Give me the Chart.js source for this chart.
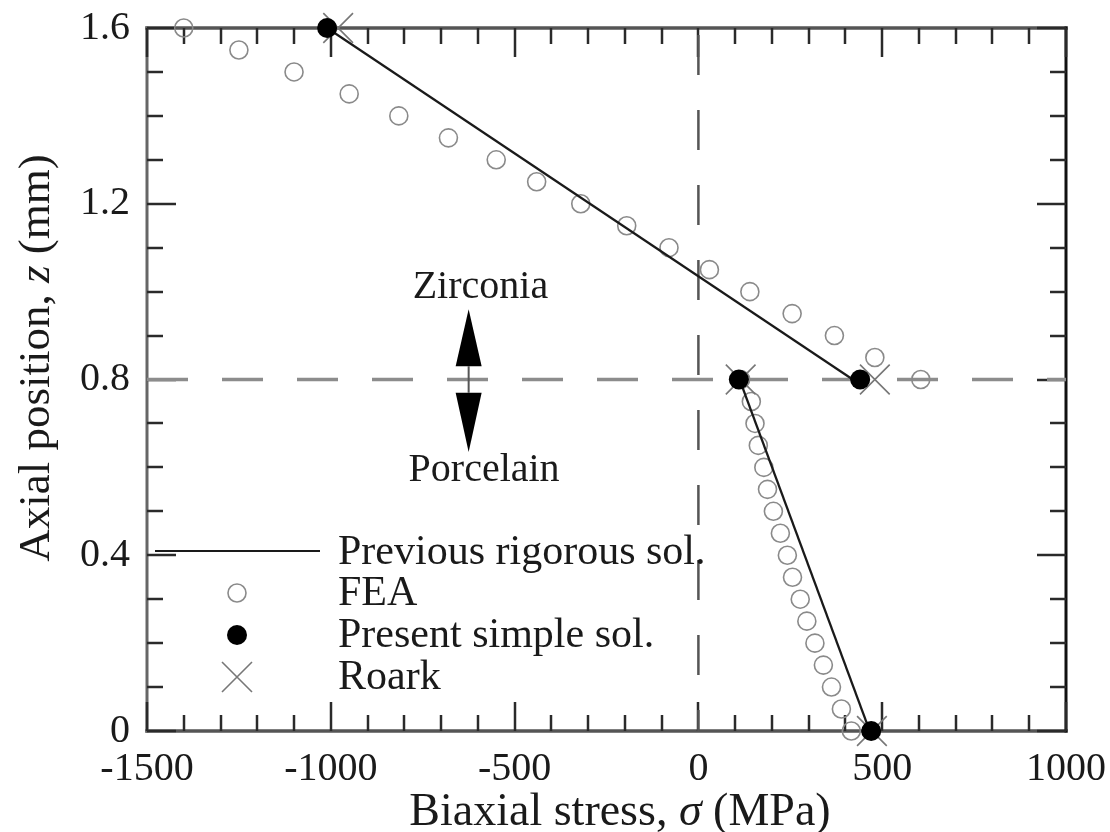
<!DOCTYPE html>
<html><head><meta charset="utf-8">
<script src="https://cdn.jsdelivr.net/npm/chart.js@4.4.1/dist/chart.umd.min.js"></script>
<style>html,body{margin:0;padding:0;background:#fff;}#wrap{width:1110px;height:832px;position:relative;}</style>
</head><body><div id="wrap"><canvas id="c" width="1110" height="832"></canvas></div>
<script>
// ---- axis ticks ----
const xTicks = [-1500, -1000, -500, 0, 500, 1000];
const yTicks = [0, 0.4, 0.8, 1.2, 1.6];

// ---- FEA (open circles) ----
const feaZirconiaZ      = [1.6, 1.55, 1.5, 1.45, 1.4, 1.35, 1.3, 1.25, 1.2, 1.15, 1.1, 1.05, 1.0, 0.95, 0.9, 0.85, 0.8];
const feaZirconiaStress = [-1400, -1250, -1100, -950, -815, -680, -550, -440, -320, -195, -80, 30, 140, 255, 370, 480, 605];
const feaPorcelainZ      = [0.8, 0.75, 0.7, 0.65, 0.6, 0.55, 0.5, 0.45, 0.4, 0.35, 0.3, 0.25, 0.2, 0.15, 0.1, 0.05, 0.0];
const feaPorcelainStress = [115, 144, 154, 163, 178, 188, 204, 223, 242, 256, 277, 295, 317, 340, 362, 389, 416];

// ---- Previous rigorous solution (lines) ----
const rigZirconiaZ = [1.6, 0.8];
const rigZirconiaStress = [-1010, 420];
const rigPorcelainZ = [0.8, 0.0];
const rigPorcelainStress = [112, 466];

// ---- Present simple solution (filled dots) ----
const simpleZ = [1.6, 0.8, 0.8, 0.0];
const simpleStress = [-1010, 440, 110, 470];

// ---- Roark (crosses) ----
const roarkZ = [1.6, 0.8, 0.8, 0.0];
const roarkStress = [-980, 480, 115, 472];

// ---- reference lines ----
const interfaceZ = 0.8;
const zeroStress = 0;

const legendLabels = ['Previous rigorous sol.', 'FEA', 'Present simple sol.', 'Roark'];
const regionLabels = ['Zirconia', 'Porcelain'];

const pts = (xs, ys) => xs.map((x, i) => ({x: x, y: ys[i]}));
const SERIF = '"Liberation Serif", "Times New Roman", serif';

const framePlugin = {
  id: 'frame',
  beforeDatasetsDraw(chart) {
    const {ctx, chartArea: a} = chart;
    ctx.save();
    ctx.lineCap = 'square';
    const side = (x1, y1, x2, y2, c, w) => { ctx.strokeStyle = c; ctx.lineWidth = w; ctx.beginPath(); ctx.moveTo(x1, y1); ctx.lineTo(x2, y2); ctx.stroke(); };
    side(a.left, a.top, a.right, a.top, '#555', 3.5);
    side(a.left, a.bottom, a.right, a.bottom, '#555', 3.5);
    side(a.left, a.top, a.left, a.bottom, '#666', 3);
    side(a.right, a.top, a.right, a.bottom, '#111', 3);
    // inward ticks
    const xs = chart.scales.x, ys = chart.scales.y;
    ctx.strokeStyle = '#2a2a2a'; ctx.lineWidth = 2.5; ctx.lineCap = 'butt';
    for (let v = -1500; v <= 1000; v += 100) {
      const px = Math.round(xs.getPixelForValue(v));
      const major = v % 500 === 0;
      const L = major ? 29 : 16;
      ctx.beginPath(); ctx.moveTo(px, a.bottom); ctx.lineTo(px, a.bottom - L); ctx.stroke();
      ctx.beginPath(); ctx.moveTo(px, a.top); ctx.lineTo(px, a.top + L); ctx.stroke();
    }
    for (let k = 0; k <= 16; k++) {
      const py = Math.round(ys.getPixelForValue(k / 10));
      const major = k % 4 === 0;
      const L = major ? 29 : 16;
      ctx.beginPath(); ctx.moveTo(a.left, py); ctx.lineTo(a.left + L, py); ctx.stroke();
      ctx.beginPath(); ctx.moveTo(a.right, py); ctx.lineTo(a.right - L, py); ctx.stroke();
    }
    ctx.restore();
  },
  afterDraw(chart) {
    const {ctx, chartArea: a} = chart;
    const xs = chart.scales.x, ys = chart.scales.y;
    ctx.save();
    ctx.fillStyle = '#1a1a1a';
    const measureMixed = (parts, size) => {
      let w = 0;
      parts.forEach(p => { ctx.font = (p[1] ? 'italic ' : '') + size + 'px ' + SERIF; w += ctx.measureText(p[0]).width; });
      return w;
    };
    const renderMixed = (parts, size, x0, y0) => {
      let x = x0;
      parts.forEach(p => { ctx.font = (p[1] ? 'italic ' : '') + size + 'px ' + SERIF; ctx.fillText(p[0], x, y0); x += ctx.measureText(p[0]).width; });
    };
    ctx.textBaseline = 'alphabetic'; ctx.textAlign = 'left';
    const xt = [['Biaxial stress, ', false], ['\u03C3', true], [' (MPa)', false]];
    const xw = measureMixed(xt, 46);
    renderMixed(xt, 46, 620 - xw / 2, 825);
    const yt = [['Axial position, ', false], ['z', true], [' (mm)', false]];
    const yw = measureMixed(yt, 45);
    ctx.save();
    ctx.translate(49, 358);
    ctx.rotate(-Math.PI / 2);
    renderMixed(yt, 45, -yw / 2, 0);
    ctx.restore();

    // region annotation (Zirconia / Porcelain with arrows)
    const ax = xs.getPixelForValue(-625);
    const upTip = ys.getPixelForValue(0.96), upBase = ys.getPixelForValue(0.83);
    const dnBase = ys.getPixelForValue(0.77), dnTip = ys.getPixelForValue(0.635);
    ctx.strokeStyle = '#555'; ctx.lineWidth = 2;
    ctx.beginPath(); ctx.moveTo(ax, upBase); ctx.lineTo(ax, dnBase); ctx.stroke();
    ctx.fillStyle = '#000';
    ctx.beginPath(); ctx.moveTo(ax, upTip); ctx.lineTo(ax - 13, upBase); ctx.lineTo(ax + 13, upBase); ctx.closePath(); ctx.fill();
    ctx.beginPath(); ctx.moveTo(ax, dnTip); ctx.lineTo(ax - 13, dnBase); ctx.lineTo(ax + 13, dnBase); ctx.closePath(); ctx.fill();
    ctx.fillStyle = '#1a1a1a';
    ctx.font = '40px ' + SERIF; ctx.textAlign = 'center';
    ctx.fillText(regionLabels[0], xs.getPixelForValue(-593), ys.getPixelForValue(0.985));
    ctx.fillText(regionLabels[1], xs.getPixelForValue(-583), ys.getPixelForValue(0.57));

    // legend
    ctx.textAlign = 'left';
    ctx.font = '42px ' + SERIF;
    const tx = 338, sx = 237;
    const rows = [564, 605, 647, 689];
    ctx.strokeStyle = '#1a1a1a'; ctx.lineWidth = 2.2;
    ctx.beginPath(); ctx.moveTo(a.left + 8, 551); ctx.lineTo(320, 551); ctx.stroke();
    ctx.strokeStyle = '#8a8a8a'; ctx.lineWidth = 1.6;
    ctx.beginPath(); ctx.arc(sx, 593, 9, 0, Math.PI * 2); ctx.stroke();
    ctx.fillStyle = '#000';
    ctx.beginPath(); ctx.arc(sx, 635, 10, 0, Math.PI * 2); ctx.fill();
    ctx.strokeStyle = '#777'; ctx.lineWidth = 1.6;
    ctx.beginPath(); ctx.moveTo(sx - 15, 662); ctx.lineTo(sx + 15, 692); ctx.moveTo(sx + 15, 662); ctx.lineTo(sx - 15, 692); ctx.stroke();
    ctx.fillStyle = '#1a1a1a';
    legendLabels.forEach((t, i) => ctx.fillText(t, tx, rows[i]));
    ctx.restore();
  }
};

new Chart(document.getElementById('c'), {
  type: 'scatter',
  data: {
    datasets: [
      {label: 'Present simple sol.', data: pts(simpleStress, simpleZ), pointStyle: 'circle', pointRadius: 10, backgroundColor: '#000', borderColor: '#000', borderWidth: 0, order: 0},
      {label: 'Roark', data: pts(roarkStress, roarkZ), pointStyle: 'crossRot', pointRadius: 21, borderColor: '#777', backgroundColor: '#777', borderWidth: 1.6, order: 1},
      {label: 'Previous rigorous sol.', type: 'line', data: pts(rigZirconiaStress, rigZirconiaZ), showLine: true, borderColor: '#1a1a1a', borderWidth: 2.2, pointRadius: 0, order: 2},
      {label: 'Previous rigorous sol. (porcelain)', type: 'line', data: pts(rigPorcelainStress, rigPorcelainZ), showLine: true, borderColor: '#1a1a1a', borderWidth: 2.2, pointRadius: 0, order: 2},
      {label: 'FEA', data: pts(feaZirconiaStress.concat(feaPorcelainStress), feaZirconiaZ.concat(feaPorcelainZ)), pointStyle: 'circle', pointRadius: 9, borderColor: '#8a8a8a', backgroundColor: 'rgba(255,255,255,0)', borderWidth: 1.6, order: 3},
      {label: 'interface', type: 'line', data: [{x: xTicks[0], y: interfaceZ}, {x: xTicks[xTicks.length - 1], y: interfaceZ}], borderColor: '#8c8c8c', borderWidth: 3.5, borderDash: [41, 34], pointRadius: 0, order: 10},
      {label: 'zero', type: 'line', data: [{x: zeroStress, y: yTicks[yTicks.length - 1]}, {x: zeroStress, y: yTicks[0]}], borderColor: '#555', borderWidth: 2.5, borderDash: [40, 35], borderDashOffset: -7, pointRadius: 0, order: 10}
    ]
  },
  options: {
    responsive: false, animation: false, devicePixelRatio: 1,
    clip: false,
    layout: {padding: {top: 28, right: 44, left: 0, bottom: 0}},
    plugins: {legend: {display: false}, tooltip: {enabled: false}},
    scales: {
      x: {
        type: 'linear', min: xTicks[0], max: xTicks[xTicks.length - 1],
        grid: {display: false, drawTicks: false}, border: {display: false},
        afterBuildTicks: s => { s.ticks = xTicks.map(v => ({value: v})); },
        afterFit: s => { s.height = 101; s.paddingLeft = 0; s.paddingRight = 0; s.paddingTop = 0; s.paddingBottom = 0; },
        ticks: {font: {family: SERIF, size: 40}, color: '#1a1a1a', padding: 14, maxRotation: 0, callback: v => String(v)}
      },
      y: {
        type: 'linear', min: yTicks[0], max: yTicks[yTicks.length - 1],
        grid: {display: false, drawTicks: false}, border: {display: false},
        afterBuildTicks: s => { s.ticks = yTicks.map(v => ({value: v})); },
        afterFit: s => { s.width = 147; s.paddingLeft = 0; s.paddingRight = 0; s.paddingTop = 0; s.paddingBottom = 0; },
        ticks: {font: {family: SERIF, size: 40}, color: '#1a1a1a', padding: 17, callback: v => (Math.abs(v) < 1e-9 ? '0' : Number(v).toFixed(1))}
      }
    }
  },
  plugins: [framePlugin]
});
</script></body></html>
